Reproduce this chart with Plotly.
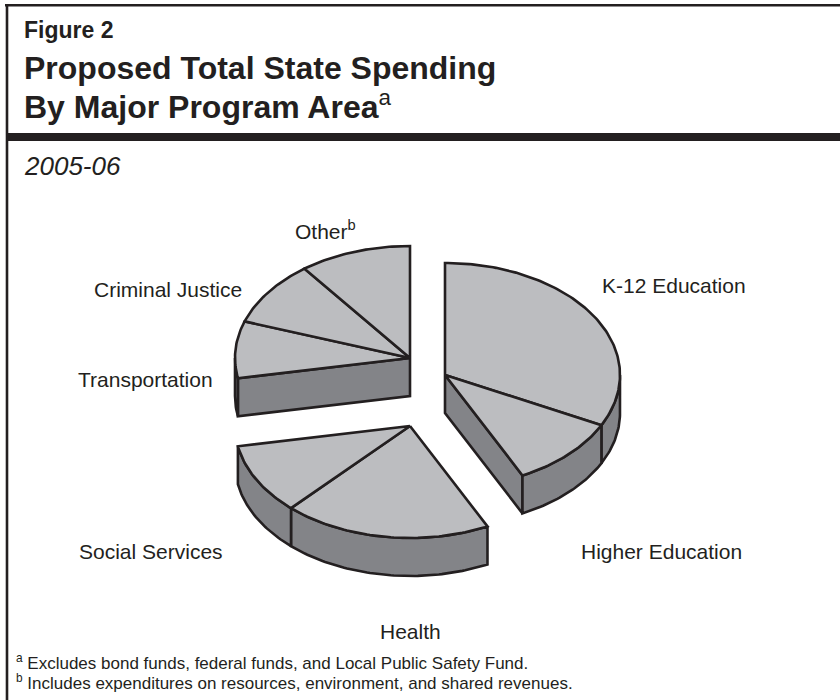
import numpy as np
import plotly.graph_objects as go

# Share of proposed 2005-06 state spending, by program area (percent)
categories = ["K-12 Education", "Higher Education", "Health", "Social Services",
              "Transportation", "Criminal Justice", "Other<sup>b</sup>"]
shares = [32.4, 10.3, 19.2, 10.2, 8.2, 9.4, 10.3]
# slices that are pulled out together as one block
groups = [[0, 1], [2, 3], [4, 5, 6]]

# ---- layout / style -------------------------------------------------------
W, H = 840, 700
CX, CY = 428, 388          # centre of the (un-exploded) pie
RX, RY, DEPTH = 175, 112, 38
group_shift = [(17, -13), (-18, 38), (-18, -30)]
paint_order = [2, 0, 1]    # back to front
label_pos = [(674, 285), (661, 551), (410, 631), (151, 551),
             (145, 379), (168, 289), (325, 230)]

TOP = "#BCBDC0"
SIDE = "#838488"
INK = "#231F20"
FONT = "Liberation Sans, Arial, Helvetica, sans-serif"
LW = 2.6

total = float(sum(shares))
bounds = np.concatenate([[0.0], np.cumsum(shares)]) / total * 360.0


def arc(ax, ay, a0, a1, dz=0.0):
    n = max(2, int(abs(a1 - a0) / 1.0) + 2)
    t = np.radians(np.linspace(a0, a1, n))
    return ax + RX * np.sin(t), ay - RY * np.cos(t) + dz


def poly(xs, ys, color):
    return go.Scatter(x=list(xs), y=list(ys), mode="lines", fill="toself",
                      fillcolor=color, line=dict(color=INK, width=LW),
                      hoverinfo="skip", showlegend=False)


fig = go.Figure()

for gi in paint_order:
    members = groups[gi]
    ax, ay = CX + group_shift[gi][0], CY + group_shift[gi][1]
    g0, g1 = bounds[members[0]], bounds[members[-1] + 1]

    # flat cut faces that turn towards the viewer
    for edge, normal in ((g0, g0 - 90), (g1, g1 + 90)):
        if np.cos(np.radians(normal)) < -1e-6:
            ex, ey = arc(ax, ay, edge, edge)
            fig.add_trace(poly([ax, ex[0], ex[0], ax, ax],
                               [ay, ey[0], ey[0] + DEPTH, ay + DEPTH, ay], SIDE))

    # curved outer wall (front half only)
    for i in members:
        lo, hi = max(bounds[i], 90.0), min(bounds[i + 1], 270.0)
        if hi > lo:
            tx, ty = arc(ax, ay, lo, hi)
            bx, by = arc(ax, ay, hi, lo, DEPTH)
            fig.add_trace(poly(np.concatenate([tx, bx, tx[:1]]),
                               np.concatenate([ty, by, ty[:1]]), SIDE))

    # top faces
    for i in members:
        tx, ty = arc(ax, ay, bounds[i], bounds[i + 1])
        fig.add_trace(poly(np.concatenate([[ax], tx, [ax]]),
                           np.concatenate([[ay], ty, [ay]]), TOP))

annotations = []
for name, (lx, ly) in zip(categories, label_pos):
    annotations.append(dict(x=lx, y=ly, xref="x", yref="y", text=name,
                            showarrow=False, xanchor="center", yanchor="middle",
                            font=dict(family=FONT, size=21, color=INK)))

header = [
    (22, 30, "<b>Figure 2</b>", 23, "normal"),
    (22, 68, "<b>Proposed Total State Spending</b>", 32, "normal"),
    (22, 105, "<b>By Major Program Area</b><sup>a</sup>", 32, "normal"),
    (22, 166, "2005-06", 26, "italic"),
    (14, 662, "<sup>a</sup> Excludes bond funds, federal funds, and Local Public Safety Fund.", 17, "normal"),
    (14, 682, "<sup>b</sup> Includes expenditures on resources, environment, and shared revenues.", 17, "normal"),
]
for hx, hy, txt, size, style in header:
    annotations.append(dict(x=hx, y=hy, xref="x", yref="y", text=txt,
                            showarrow=False, xanchor="left", yanchor="middle",
                            font=dict(family=FONT, size=size, color=INK, style=style)))

shapes = [
    dict(type="line", xref="x", yref="y", x0=5, x1=W, y0=5.3, y1=5.3,
         line=dict(color=INK, width=2.6)),
    dict(type="line", xref="x", yref="y", x0=7, x1=7, y0=4, y1=H,
         line=dict(color=INK, width=2.6)),
    dict(type="rect", xref="x", yref="y", x0=6, x1=W, y0=133, y1=141,
         fillcolor=INK, line=dict(width=0)),
]

fig.update_layout(
    width=W, height=H, margin=dict(l=0, r=0, t=0, b=0),
    paper_bgcolor="white", plot_bgcolor="white",
    xaxis=dict(range=[0, W], visible=False, fixedrange=True),
    yaxis=dict(range=[H, 0], visible=False, fixedrange=True),
    annotations=annotations, shapes=shapes, showlegend=False,
)

fig.write_html("out.html")
